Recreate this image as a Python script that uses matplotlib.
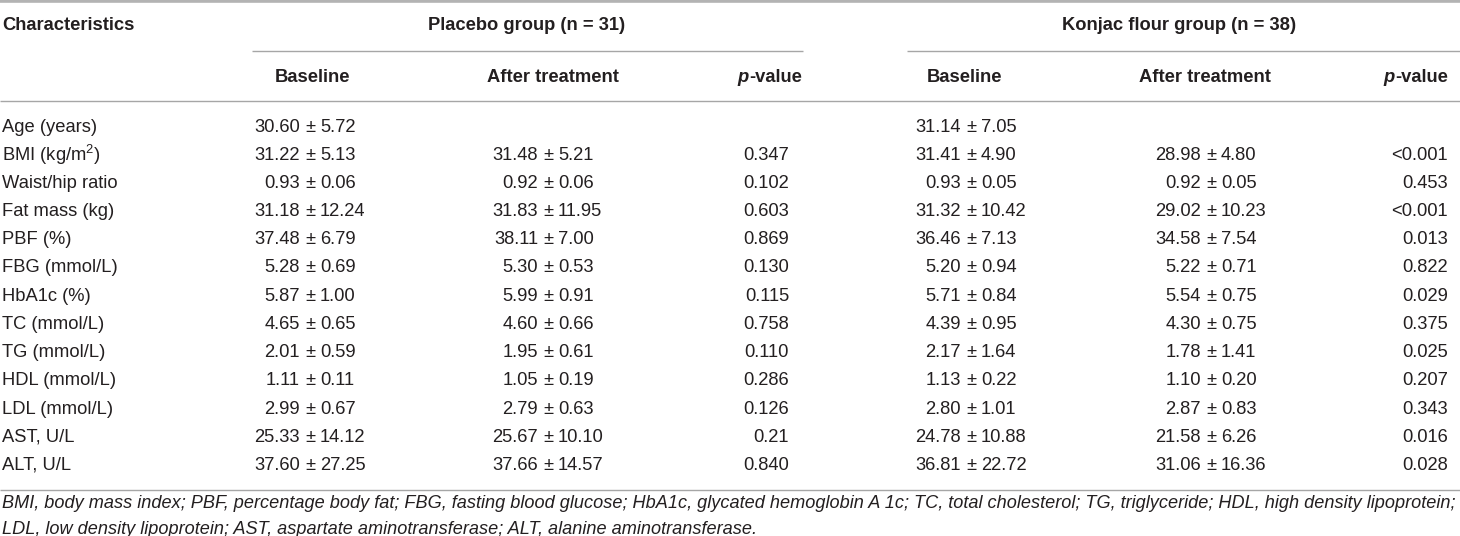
import matplotlib
matplotlib.use("Agg")
import matplotlib.pyplot as plt
from matplotlib.lines import Line2D

plt.rcParams['font.family'] = ['Liberation Sans', 'DejaVu Sans']
plt.rcParams['mathtext.default'] = 'regular'

# ---------------- data ----------------
characteristics = ["Age (years)", "BMI (kg/m$^{2}$)", "Waist/hip ratio", "Fat mass (kg)",
                   "PBF (%)", "FBG (mmol/L)", "HbA1c (%)", "TC (mmol/L)", "TG (mmol/L)",
                   "HDL (mmol/L)", "LDL (mmol/L)", "AST, U/L", "ALT, U/L"]
placebo_base_mean = [30.60, 31.22, 0.93, 31.18, 37.48, 5.28, 5.87, 4.65, 2.01, 1.11, 2.99, 25.33, 37.60]
placebo_base_sd = [5.72, 5.13, 0.06, 12.24, 6.79, 0.69, 1.00, 0.65, 0.59, 0.11, 0.67, 14.12, 27.25]
placebo_after_mean = [None, 31.48, 0.92, 31.83, 38.11, 5.30, 5.99, 4.60, 1.95, 1.05, 2.79, 25.67, 37.66]
placebo_after_sd = [None, 5.21, 0.06, 11.95, 7.00, 0.53, 0.91, 0.66, 0.61, 0.19, 0.63, 10.10, 14.57]
placebo_p = ["", "0.347", "0.102", "0.603", "0.869", "0.130", "0.115", "0.758", "0.110",
             "0.286", "0.126", "0.21", "0.840"]
konjac_base_mean = [31.14, 31.41, 0.93, 31.32, 36.46, 5.20, 5.71, 4.39, 2.17, 1.13, 2.80, 24.78, 36.81]
konjac_base_sd = [7.05, 4.90, 0.05, 10.42, 7.13, 0.94, 0.84, 0.95, 1.64, 0.22, 1.01, 10.88, 22.72]
konjac_after_mean = [None, 28.98, 0.92, 29.02, 34.58, 5.22, 5.54, 4.30, 1.78, 1.10, 2.87, 21.58, 31.06]
konjac_after_sd = [None, 4.80, 0.05, 10.23, 7.54, 0.71, 0.75, 0.75, 1.41, 0.20, 0.83, 6.26, 16.36]
konjac_p = ["", "<0.001", "0.453", "<0.001", "0.013", "0.822", "0.029", "0.375", "0.025",
            "0.207", "0.343", "0.016", "0.028"]
group_headers = ["Placebo group (n = 31)", "Konjac flour group (n = 38)"]
sub_headers = ["Baseline", "After treatment"]
footnote = ["BMI, body mass index; PBF, percentage body fat; FBG, fasting blood glucose; HbA1c, "
            "glycated hemoglobin A 1c; TC, total cholesterol; TG, triglyceride; HDL, high density lipoprotein;",
            "LDL, low density lipoprotein; AST, aspartate aminotransferase; ALT, alanine aminotransferase."]

# ---------------- layout ----------------
W, H = 1460, 536
fig = plt.figure(figsize=(W / 100, H / 100), dpi=100)
ax = fig.add_axes([0, 0, 1, 1])
ax.set_xlim(0, W)
ax.set_ylim(H, 0)
ax.axis("off")

TXT = "#231f20"
RULE = "#a6a6a6"
FS = 13.2
HFS = 13.2
FNS = 13.1

row_y0, row_dy = 127, 28.2
pm_x = {"pb": 310, "pa": 548, "kb": 971, "ka": 1211}
p_right = {"p": 789, "k": 1448}

def hline(x0, x1, y, lw, color=RULE):
    ax.add_line(Line2D([x0, x1], [y, y], color=color, lw=lw, solid_capstyle="butt"))

hline(0, W, 1.2, 2.6, "#b3b3b3")
hline(252, 803, 51, 1.0)
hline(907, W, 51, 1.0)
hline(0, W, 101, 1.0)
hline(0, W, 490, 1.0)

# headers
ax.text(2, 26, "Characteristics", fontsize=HFS, fontweight="bold", color=TXT, va="center", ha="left")
ax.text(527, 26, group_headers[0], fontsize=HFS, fontweight="bold", color=TXT, va="center", ha="center")
ax.text(1179, 26, group_headers[1], fontsize=HFS, fontweight="bold", color=TXT, va="center", ha="center")
for cx, lab in [(313, sub_headers[0]), (553, sub_headers[1]), (965, sub_headers[0]), (1205, sub_headers[1])]:
    ax.text(cx, 77, lab, fontsize=HFS, fontweight="bold", color=TXT, va="center", ha="center")

fig.canvas.draw()
renderer = fig.canvas.get_renderer()
inv = ax.transData.inverted()
for rx in (802, 1448):
    t = ax.text(rx, 77, "-value", fontsize=HFS, fontweight="bold", color=TXT, va="center", ha="right")
    bb = t.get_window_extent(renderer)
    x0 = inv.transform((bb.x0, bb.y0))[0]
    ax.text(x0, 77, "p", fontsize=HFS, fontweight="bold", style="italic", color=TXT, va="center", ha="right")

def mean_sd(x, y, m, s):
    if m is None:
        return
    ax.text(x - 10, y, f"{m:.2f}", fontsize=FS, color=TXT, va="center", ha="right")
    ax.text(x, y, "±", fontsize=FS, color=TXT, va="center", ha="center")
    ax.text(x + 10, y, f"{s:.2f}", fontsize=FS, color=TXT, va="center", ha="left")

for i, lab in enumerate(characteristics):
    y = row_y0 + i * row_dy
    ax.text(2, y, lab, fontsize=FS, color=TXT, va="center", ha="left")
    mean_sd(pm_x["pb"], y, placebo_base_mean[i], placebo_base_sd[i])
    mean_sd(pm_x["pa"], y, placebo_after_mean[i], placebo_after_sd[i])
    ax.text(p_right["p"], y, placebo_p[i], fontsize=FS, color=TXT, va="center", ha="right")
    mean_sd(pm_x["kb"], y, konjac_base_mean[i], konjac_base_sd[i])
    mean_sd(pm_x["ka"], y, konjac_after_mean[i], konjac_after_sd[i])
    ax.text(p_right["k"], y, konjac_p[i], fontsize=FS, color=TXT, va="center", ha="right")

for j, line in enumerate(footnote):
    t = ax.text(2, 504 + j * 25, line, fontsize=FNS, style="italic", color=TXT, va="center", ha="left")
    # shrink to fit the figure width if needed
    bb = t.get_window_extent(renderer)
    if bb.x1 > W - 8:
        t.set_fontsize(FNS * (W - 10) / bb.x1)

fig.savefig("out.png", dpi=100)
